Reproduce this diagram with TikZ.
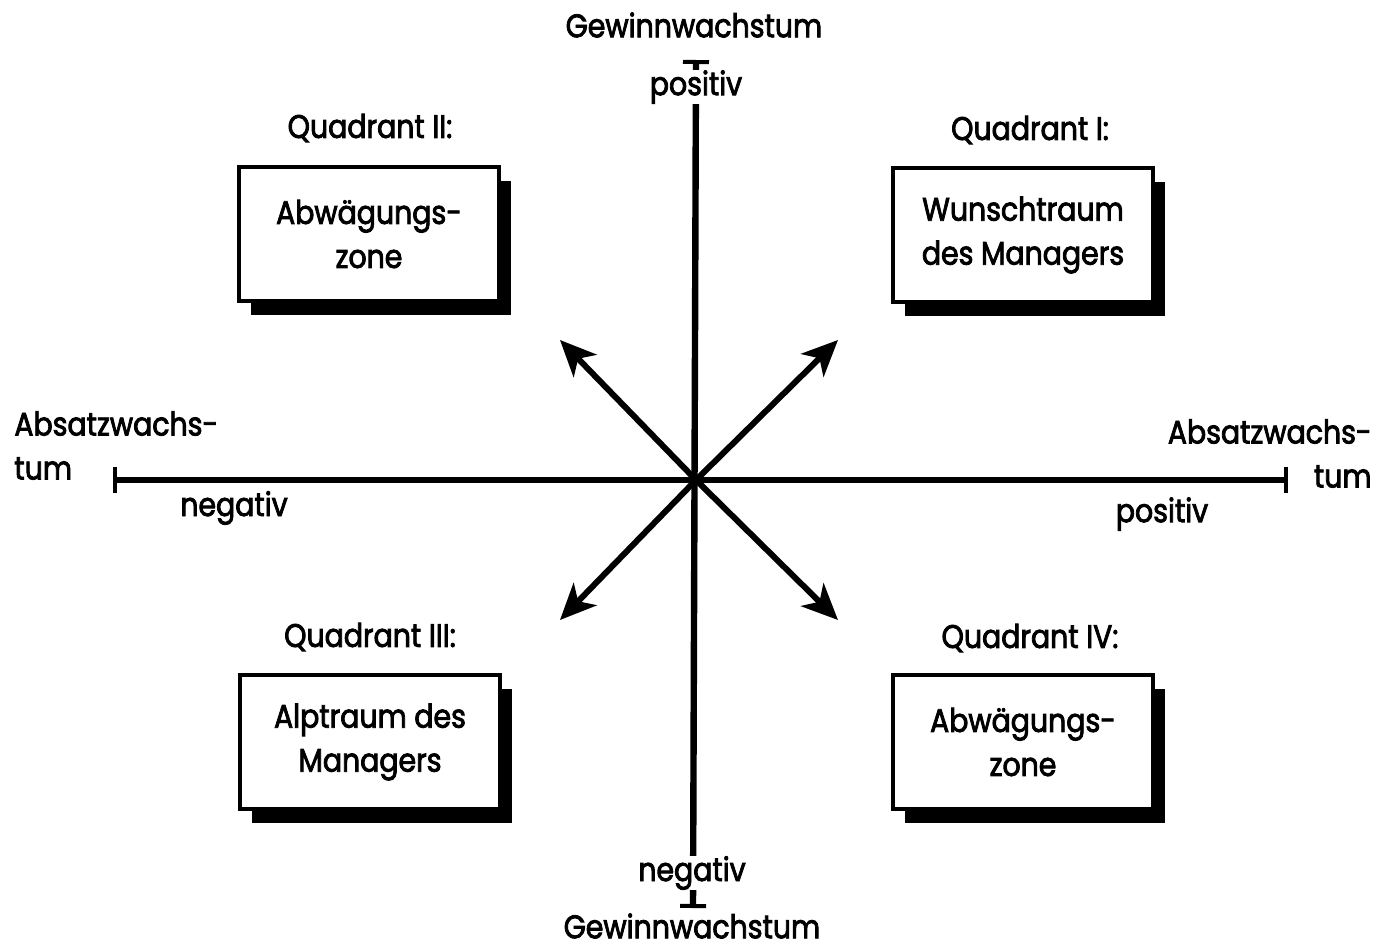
\documentclass[tikz,border=0pt]{standalone}
\usepackage{fontspec}
\setmainfont{Poppins}[FakeBold=2.5,FakeStretch=0.87,UprightFont=*,BoldFont=*]
\usetikzlibrary{arrows.meta,shadows}
\begin{document}
\begin{tikzpicture}[x=0.5pt,y=-0.5pt,
  lbl/.style={inner sep=1pt,font=\fontsize{16.3}{22}\selectfont\bfseries},
  axislabel/.style={lbl,fill=white,inner sep=0pt},
  qbox/.style={draw,line width=1.6pt,fill=white,minimum width=130pt,minimum height=67pt,
    align=center,font=\fontsize{16.3}{22}\selectfont\bfseries,
    drop shadow={shadow xshift=6pt,shadow yshift=-7pt,fill=black,opacity=1}},
  axis/.style={line width=3.2pt,{Bar[width=13pt,line width=2pt]}-{Bar[width=13pt,line width=2pt]}},
  diag/.style={line width=3pt,-{Stealth[length=18pt,width=16pt,inset=5pt]}}]
\useasboundingbox (0,0) rectangle (1377,947);
\coordinate (O) at (696,480);
\coordinate (top) at (696,60);
\coordinate (bot) at (693,908);
\coordinate (left) at (113,480);
\coordinate (right) at (1288,480);
\coordinate (ne) at (838,340);
\coordinate (nw) at (560,340);
\coordinate (se) at (838,620);
\coordinate (sw) at (560,620);
% axes
\draw[axis] (left) -- (right);
\draw[axis] (top) -- (bot);
\draw[diag] (O) -- (ne);
\draw[diag] (O) -- (nw);
\draw[diag] (O) -- (se);
\draw[diag] (O) -- (sw);
% axis labels
\node[lbl] (gtop) at (694,25) {Gewinnwachstum};
\node[axislabel] (pos) at (696,87) {positiv};
\node[axislabel] (neg) at (692,873) {negativ};
\node[lbl] (gbot) at (692,926) {Gewinnwachstum};
\node[lbl,align=left,anchor=north west] (aleft) at (12,409) {Absatzwachs-\\tum};
\node[lbl] (negl) at (234,508) {negativ};
\node[lbl,align=right,anchor=north east] (aright) at (1374,417) {Absatzwachs-\\tum};
\node[lbl] (posr) at (1162,514) {positiv};
% quadrants
\node[qbox] (q2) at (369,234) {Abwägungs-\\zone};
\node[qbox] (q1) at (1023,235) {Wunschtraum\\des Managers};
\node[qbox] (q3) at (370,742) {Alptraum des\\Managers};
\node[qbox] (q4) at (1023,742) {Abwägungs-\\zone};
\node[lbl] (t2) at (370,128) {Quadrant II:};
\node[lbl] (t1) at (1030,130) {Quadrant I:};
\node[lbl] (t3) at (370,637) {Quadrant III:};
\node[lbl] (t4) at (1030,638) {Quadrant IV:};
\end{tikzpicture}
\end{document}
